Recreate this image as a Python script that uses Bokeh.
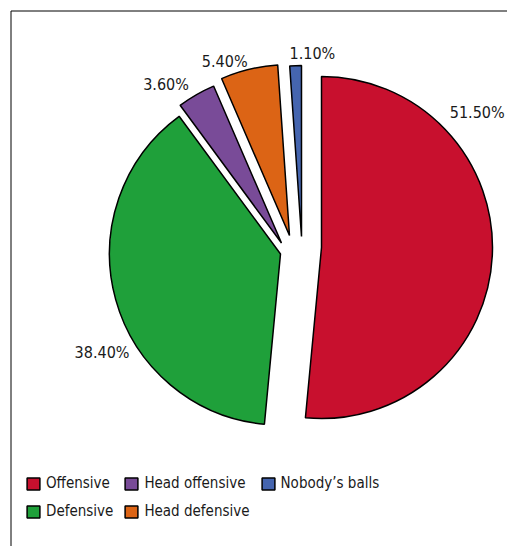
import math
from bokeh.plotting import figure
from bokeh.models import ColumnDataSource, Range1d, Legend
from bokeh.core.properties import value
from bokeh.embed import file_html
from bokeh.resources import INLINE

# ---- data ----
categories = ["Offensive", "Defensive", "Head offensive", "Head defensive", "Nobody\u2019s balls"]
shares = [51.5, 38.4, 3.6, 5.4, 1.1]
labels = ["51.50%", "38.40%", "3.60%", "5.40%", "1.10%"]

# ---- style ----
colors = ["#C8102E", "#1FA03A", "#794B98", "#DC6415", "#4565AF"]
W, H = 507, 546
center = (300, 246)          # screen px
radius = 171
explode_offsets = [(21, 1), (-20, 7.5), (-19, -3.5), (-11, -11), (1, -10)]  # screen px
label_angle_shift = [-43.6, -13.5, -6.2, -6.7, 5.4]   # degrees
label_dist = [206, 204, 196, 186, 183]
FONT = "DejaVu Sans Condensed, Lato, sans-serif"

total = sum(shares)
xs, ys, starts, ends, lx, ly = [], [], [], [], [], []
acc = 0.0
for i, s in enumerate(shares):
    th0 = acc / total * 360.0
    th1 = (acc + s) / total * 360.0
    acc += s
    mid = (th0 + th1) / 2
    vx = center[0] + explode_offsets[i][0]
    vy = center[1] + explode_offsets[i][1]
    xs.append(vx)
    ys.append(H - vy)
    starts.append(math.radians(90 - th0))
    ends.append(math.radians(90 - th1))
    la = math.radians(mid + label_angle_shift[i])
    lx.append(vx + label_dist[i] * math.sin(la))
    ly.append(H - (vy - label_dist[i] * math.cos(la)))

src = ColumnDataSource(dict(x=xs, y=ys, start=starts, end=ends, color=colors,
                            name=categories, lx=lx, ly=ly, label=labels))

p = figure(width=W, height=H, output_backend="svg", toolbar_location=None,
           x_range=Range1d(0, W), y_range=Range1d(0, H), min_border=0)
p.axis.visible = False
p.grid.visible = False
p.outline_line_color = None
p.background_fill_color = "white"

# frame (left and top edges)
p.line(x=[10.5, 10.5, W + 20], y=[-20, H - 10.5, H - 10.5], line_color="black", line_width=1)

w = p.wedge(x="x", y="y", radius=radius, start_angle="start", end_angle="end",
            direction="clock", fill_color="color", line_color="black", line_width=1.5,
            source=src, legend_field="name")

p.text(x="lx", y="ly", text="label", source=src, text_align="center",
       text_baseline="middle", text_font=value(FONT), text_font_size="16px",
       text_color="#1a1a1a")

leg = p.legend[0]
leg.location = (25, 26)
leg.orientation = "vertical"
leg.nrows = 2
leg.padding = 0
leg.margin = 0
leg.spacing = 10
leg.glyph_width = 16
leg.glyph_height = 15
leg.label_height = 16
leg.label_standoff = 5
leg.label_text_font = FONT
leg.label_text_font_size = "15px"
leg.label_text_color = "#1a1a1a"
leg.border_line_color = None
leg.background_fill_alpha = 0

open("out.html", "w").write(file_html(p, INLINE))
